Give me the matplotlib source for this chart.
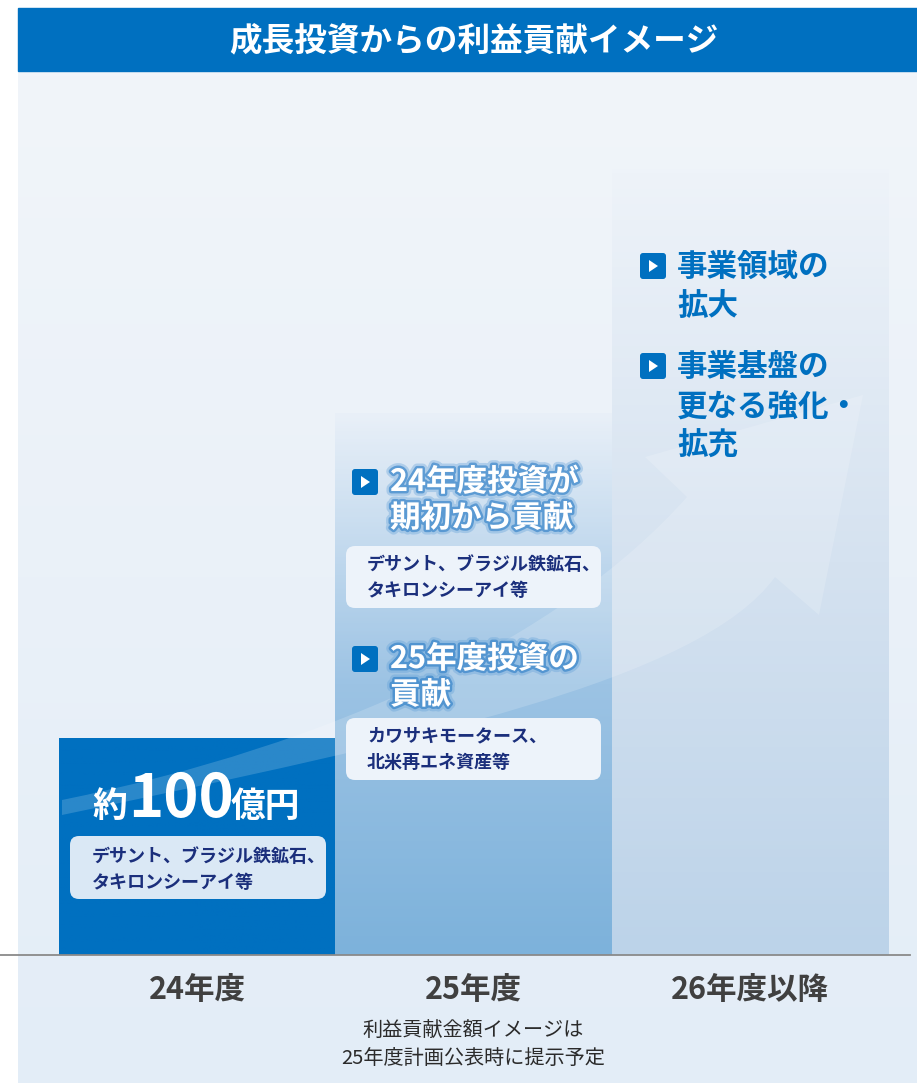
import numpy as np
import matplotlib.pyplot as plt
import matplotlib.patheffects as pe
from matplotlib.colors import LinearSegmentedColormap
from matplotlib.patches import Rectangle, FancyBboxPatch, Polygon, PathPatch
from matplotlib.path import Path

plt.rcParams['font.family'] = ['Noto Sans CJK JP', 'DejaVu Sans']

W, H = 917, 1083

# data
title = '成長投資からの利益貢献イメージ'
categories = ['24年度', '25年度', '26年度以降']
values = [1.0, 2.5, 3.62]          # image heights, relative to 24年度
bar_colors = [['#0070c0', '#0070c0'],
              ['#e9f0f8', '#9cc3e4', '#7db2db'],
              ['#eef3f9', '#d5e2f0', '#bcd3e9']]
amount = ['約', '100', '億円']
bar1_note = 'デサント、ブラジル鉄鉱石、\nタキロンシーアイ等'
bar2_heads = ['24年度投資が\n期初から貢献', '25年度投資の\n貢献']
bar2_notes = ['デサント、ブラジル鉄鉱石、\nタキロンシーアイ等',
              'カワサキモータース、\n北米再エネ資産等']
bar3_heads = ['事業領域の\n拡大', '事業基盤の\n更なる強化・\n拡充']
footnote = '利益貢献金額イメージは\n25年度計画公表時に提示予定'

navy = '#1b2f7c'
blue = '#0070c0'

fig = plt.figure(figsize=(W / 100, H / 100), dpi=100)

# background panel
bg = fig.add_axes([0, 0, 1, 1], zorder=0)
bg.axis('off')
grad = np.linspace(0, 1, 200)[:, None]
bg_cmap = LinearSegmentedColormap.from_list('bg', ['#f1f5fa', '#e3edf7'])
bg.imshow(grad, cmap=bg_cmap, extent=(18, W, H, 71), aspect='auto')
bg.set_xlim(0, W)
bg.set_ylim(H, 0)

# bars
ax = fig.add_axes([0, (H - 955) / H, 910 / W, (955 - 75) / H], zorder=1)
ax.patch.set_alpha(0)
x = np.arange(len(categories))
bars = ax.bar(x, values, width=1.0, color=[c[-1] for c in bar_colors], linewidth=0)
for xi, v, b, cols in zip(x, values, bars, bar_colors):
    cmap = LinearSegmentedColormap.from_list('g%d' % xi, cols[::-1])
    im = ax.imshow(grad[::-1], cmap=cmap, extent=(xi - 0.5, xi + 0.5, 0, v),
                   aspect='auto', zorder=1.5)
    im.set_clip_path(b)
ax.set_xlim(-197 / 276.5, (910 - 197) / 276.5)
ax.set_ylim(0, 880 / 217)
for s in ['top', 'right', 'left']:
    ax.spines[s].set_visible(False)
ax.spines['bottom'].set_color('#8a8a8a')
ax.spines['bottom'].set_linewidth(1.3)
ax.spines['bottom'].set_zorder(3)
ax.set_yticks([])
ax.set_xticks(x)
ax.set_xticklabels(categories, fontsize=22, fontweight='bold', color='#404040')
ax.tick_params(axis='x', length=0, pad=13.5)

# overlay for decorations
ov = fig.add_axes([0, 0, 1, 1], zorder=2)
ov.patch.set_alpha(0)
ov.set_xlim(0, W)
ov.set_ylim(H, 0)
ov.axis('off')

# title banner
ov.add_patch(Rectangle((18, 8), W - 18, 63, color=blue, zorder=1))
ov.text(474, 41, title, color='white', fontsize=23.5, fontweight='bold',
        ha='center', va='center', zorder=2)

# growth arrow
verts = [(62, 800), (330, 745), (560, 640), (687, 497),
         (645, 457), (863, 395), (819, 615), (775, 577),
         (700, 680), (420, 740), (62, 815), (62, 800)]
codes = [Path.MOVETO, Path.CURVE4, Path.CURVE4, Path.CURVE4,
         Path.LINETO, Path.LINETO, Path.LINETO, Path.LINETO,
         Path.CURVE4, Path.CURVE4, Path.CURVE4, Path.CLOSEPOLY]
ov.add_patch(PathPatch(Path(verts, codes), facecolor='white', edgecolor='none',
                       alpha=0.17, zorder=1))


def lines(txt, x0, y0, gap, **kw):
    for i, ln in enumerate(txt.split('\n')):
        ov.text(x0, y0 + i * gap, ln, va='center', zorder=4, **kw)


def note_box(x0, y0, w, h, fc):
    ov.add_patch(FancyBboxPatch((x0, y0), w, h, boxstyle='round,pad=0,rounding_size=9',
                                facecolor=fc, edgecolor='none', zorder=3))


def bullet(x0, y0, s=26):
    ov.add_patch(FancyBboxPatch((x0, y0), s, s, boxstyle='round,pad=0,rounding_size=3',
                                facecolor=blue, edgecolor='none', zorder=3))
    ov.add_patch(Polygon([(x0 + 9, y0 + 7), (x0 + 9, y0 + s - 7), (x0 + s - 8, y0 + s / 2)],
                         closed=True, facecolor='white', edgecolor='none', zorder=4))


# 24年度 bar
ov.text(127, 817, amount[0], color='white', fontsize=25, fontweight='bold',
        ha='right', va='baseline', zorder=4)
ov.text(181, 817, amount[1], color='white', fontsize=43, fontweight='bold',
        ha='center', va='baseline', zorder=4)
ov.text(231, 817, amount[2], color='white', fontsize=25, fontweight='bold',
        ha='left', va='baseline', zorder=4)
note_box(70, 836, 256, 63, '#dae8f5')
lines(bar1_note, 92, 856, 27, color=navy, fontsize=13, fontweight='bold')

# 25年度 bar
glow = [pe.Stroke(linewidth=7, foreground='#5f9fd8', alpha=0.35),
        pe.Stroke(linewidth=3.5, foreground='#2a7cc6', alpha=0.6), pe.Normal()]
for head, note, by, ny in zip(bar2_heads, bar2_notes, [469, 646], [546, 718]):
    bullet(352, by)
    lines(head, 390, by + 13, 36, color='white', fontsize=22, fontweight='bold',
          path_effects=glow)
    note_box(346, ny, 255, 62, '#edf3fa')
    lines(note, 367, ny + 18, 27, color=navy, fontsize=13, fontweight='bold')

# 26年度以降 bar
for head, by in zip(bar3_heads, [253, 353]):
    bullet(640, by)
    lines(head, 677, by + 14, 39.5, color=blue, fontsize=22, fontweight='bold')

# footnote
for i, ln in enumerate(footnote.split('\n')):
    ov.text(473, 1031 + i * 27, ln, ha='center', va='center', fontsize=14.5,
            color='#2b2b2b', zorder=4)

fig.savefig('out.png', dpi=100)
